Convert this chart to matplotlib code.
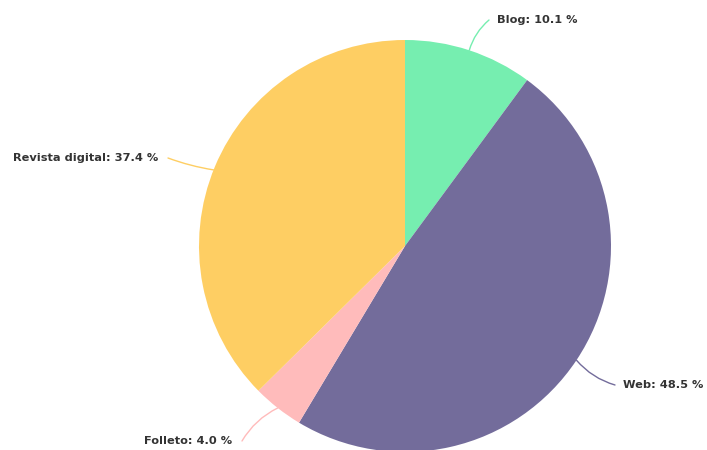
import numpy as np
import matplotlib.pyplot as plt

labels = ["Blog", "Web", "Folleto", "Revista digital"]
shares = [10.1, 48.5, 4.0, 37.4]
colors = ["#76EEB0", "#736C9B", "#FFBBBB", "#FECE63"]

W, H = 707, 450
fig = plt.figure(figsize=(W / 100, H / 100), dpi=100)
ax = fig.add_axes([0, 0, 1, 1])

cx, cy, r = 405, H - 246, 206
ax.pie(shares, colors=colors, startangle=90, counterclock=False,
       center=(cx, cy), radius=r, wedgeprops=dict(linewidth=0),
       frame=True)
ax.set_xlim(0, W)
ax.set_ylim(0, H)
ax.axis("off")

# label placement: (angle nudge in degrees, text x, text y in px from top, ha, rad)
layout = [
    (0, 497, 20, "left", 0.15),
    (0, 623, 385, "left", -0.15),
    (0, 232, 441, "right", -0.15),
    (-1, 158, 158, "right", 0.05),
]

total = sum(shares)
start = 0.0
for name, val, col, (nudge, tx, ty, ha, rad) in zip(labels, shares, colors, layout):
    mid = start + val / 2
    start += val
    ang = np.deg2rad(mid / total * 360 + nudge)
    ex = cx + r * np.sin(ang)
    ey = cy + r * np.cos(ang)
    lx = tx - 8 if ha == "left" else tx + 10
    ax.annotate("", xy=(ex, ey), xytext=(lx, H - ty),
                arrowprops=dict(arrowstyle="-", color=col, lw=1,
                                connectionstyle=f"arc3,rad={rad}",
                                shrinkA=0, shrinkB=0))
    ax.text(tx, H - ty, f"{name}: {val:.1f} %", ha=ha, va="center",
            fontsize=8.2, fontweight="bold", color="#333333")

fig.savefig("out.png", dpi=100)
